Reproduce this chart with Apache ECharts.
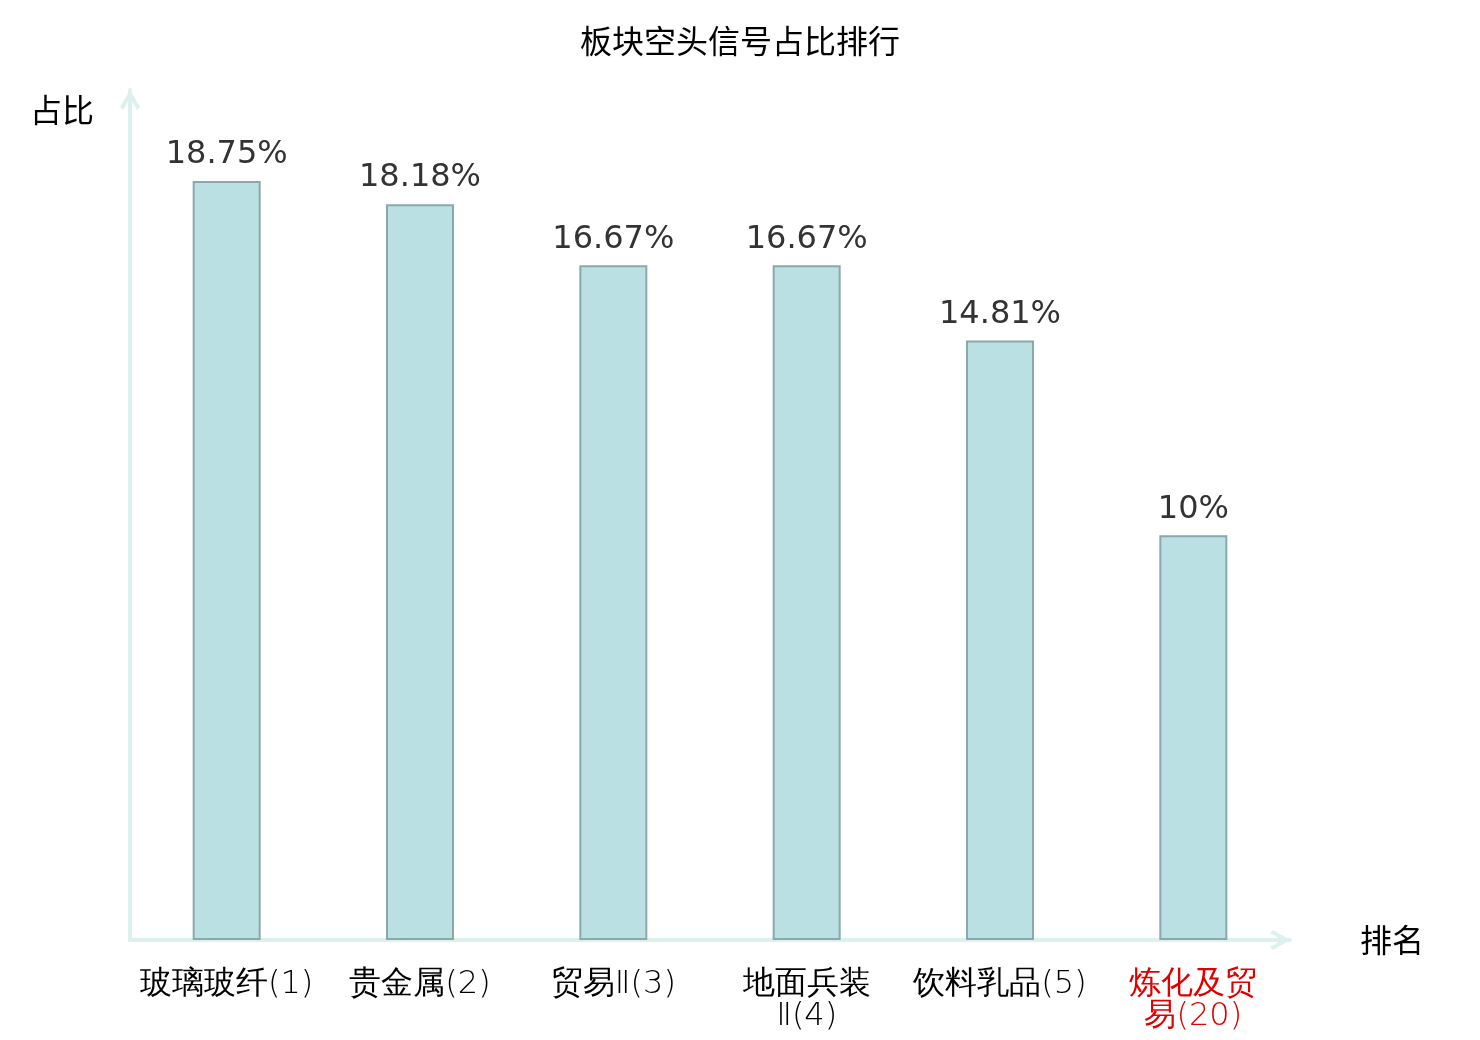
<!DOCTYPE html>
<html>
<head>
<meta charset="utf-8">
<script src="https://cdn.jsdelivr.net/npm/echarts@6/dist/echarts.min.js"></script>
<style>
  html, body { margin: 0; padding: 0; background: #fff; }
  #main { width: 1480px; height: 1040px; }
</style>
</head>
<body>
<div id="main"></div>
<script>
var categories = ['玻璃玻纤(1)', '贵金属(2)', '贸易Ⅱ(3)', '地面兵装Ⅱ(4)', '饮料乳品(5)', '炼化及贸易(20)'];
var ratios = [18.75, 18.18, 16.67, 16.67, 14.81, 10];
var highlight = ['炼化及贸易(20)'];

var axisColor = '#dcf0ed';
// 折线形箭头（填充多边形）
var arrowPath = 'path://M10,0 L20,17 L17,20 L10,8 L3,20 L0,17 Z';

var myChart = echarts.init(document.getElementById('main'));
var option = {
  backgroundColor: '#fff',
  animation: false,
  title: {
    text: '板块空头信号占比排行',
    left: 'center',
    top: 20,
    textStyle: {
      color: '#000',
      fontWeight: 'normal',
      fontFamily: 'Noto Sans CJK SC',
      fontSize: 32
    }
  },
  grid: {
    left: 130,
    right: 190,
    top: 90,
    bottom: 100,
    containLabel: false,
    outerBoundsMode: 'none'
  },
  xAxis: {
    type: 'category',
    data: categories,
    name: '排名',
    nameGap: 70,
    nameMoveOverlap: false,
    nameTextStyle: {
      color: '#000',
      fontFamily: 'Noto Sans CJK SC',
      fontSize: 32
    },
    axisLine: {
      show: true,
      symbol: ['none', arrowPath],
      symbolSize: [21, 20],
      symbolOffset: [0, -10],
      lineStyle: { color: axisColor, width: 4 }
    },
    axisTick: { show: false },
    axisLabel: {
      interval: 0,
      margin: 29,
      fontFamily: 'DejaVu Sans',
      fontWeight: 200,
      fontSize: 32,
      lineHeight: 32,
      color: function (value) {
        return highlight.indexOf(value) > -1 ? '#e00000' : '#000';
      },
      formatter: function (value) {
        // 超过7个字的名称在第4个字后换行
        if (value.length <= 7) return value;
        return value.slice(0, 4) + '\n' + value.slice(4);
      }
    }
  },
  yAxis: {
    type: 'value',
    min: 0,
    max: 21,
    name: '占比',
    nameGap: -20,
    nameTextStyle: {
      color: '#000',
      fontFamily: 'Noto Sans CJK SC',
      fontSize: 32,
      align: 'right',
      verticalAlign: 'middle',
      padding: [0, 36, 0, 0]
    },
    axisLine: {
      show: true,
      symbol: ['none', arrowPath],
      symbolSize: [21, 20],
      symbolOffset: [0, -10],
      lineStyle: { color: axisColor, width: 4 }
    },
    axisTick: { show: false },
    axisLabel: { show: false },
    splitLine: { show: false }
  },
  series: [
    {
      name: '占比',
      type: 'bar',
      barWidth: 68,
      itemStyle: {
        color: '#bbe0e3',
        borderColor: '#8aa8aa',
        borderWidth: 2
      },
      label: {
        show: true,
        position: 'top',
        distance: 10,
        color: '#333',
        fontFamily: 'DejaVu Sans',
        fontSize: 32,
        formatter: '{c}%'
      },
      data: ratios
    }
  ]
};
myChart.setOption(option);
</script>
</body>
</html>
